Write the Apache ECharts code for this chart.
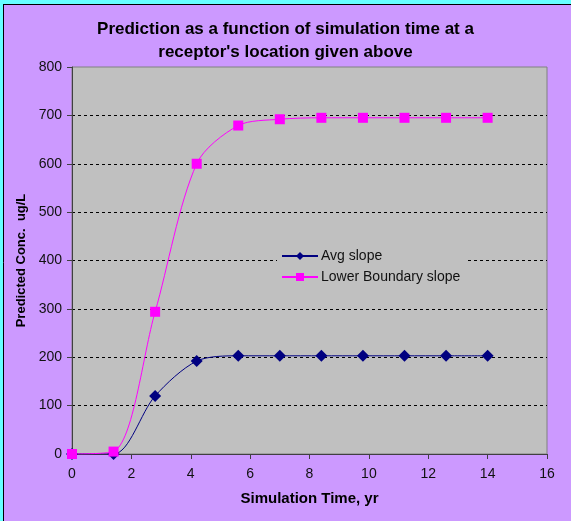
<!DOCTYPE html>
<html><head><meta charset="utf-8">
<script src="https://cdn.jsdelivr.net/npm/echarts@6/dist/echarts.min.js"></script>
<style>html,body{margin:0;padding:0;}#c{width:571px;height:521px;}</style>
</head><body><div id="c"></div>
<script>
const timeYr = [0, 1.4, 2.8, 4.2, 5.6, 7, 8.4, 9.8, 11.2, 12.6, 14];
const avgSlope = [0, 0, 120, 192, 203, 203, 203, 203, 203, 203, 203];
const lowerBoundarySlope = [0, 5, 294, 600, 679, 692, 695, 695, 695, 695, 695];
const titleLines = ["Prediction as a function of simulation time at a", "receptor's location given above"];
const xName = "Simulation Time, yr";
const yName = "Predicted Conc.  ug/L";

const font = "'Liberation Sans', Arial, sans-serif";
const chart = echarts.init(document.getElementById('c'));
chart.setOption({
  backgroundColor: '#CC99FF',
  animation: false,
  title: {
    text: titleLines.join('\n'),
    left: 'center', top: 13,
    textStyle: { fontFamily: font, fontSize: 17, fontWeight: 'bold', color: '#000', lineHeight: 23 }
  },
  graphic: [
    { type: 'rect', shape: { x: 0, y: 0, width: 571, height: 4 }, style: { fill: '#66FFFF' } },
    { type: 'rect', shape: { x: 0, y: 0, width: 3, height: 521 }, style: { fill: '#66FFFF' } },
    { type: 'line', shape: { x1: 3, y1: 4.5, x2: 571, y2: 4.5 }, style: { stroke: '#000', lineWidth: 1 } },
    { type: 'line', shape: { x1: 3.5, y1: 4, x2: 3.5, y2: 521 }, style: { stroke: '#000', lineWidth: 1 } }
  ],
  grid: { left: 72, top: 67, right: 24, bottom: 67, show: true, backgroundColor: '#C0C0C0', borderColor: '#808080', borderWidth: 1 },
  legend: {
    orient: 'vertical', left: 277, top: 247,
    backgroundColor: '#C0C0C0', padding: [2, 6, 2, 4],
    itemWidth: 36, itemHeight: 10, itemGap: 7,
    textStyle: { fontFamily: font, fontSize: 14, color: '#111', padding: [0, 0, 0, -2] },
    data: ['Avg slope', 'Lower Boundary slope']
  },
  xAxis: {
    type: 'value', min: 0, max: 16, interval: 2,
    name: xName, nameLocation: 'middle', nameGap: 37,
    nameTextStyle: { fontFamily: font, fontSize: 15, fontWeight: 'bold', color: '#000' },
    axisLine: { show: true, onZero: false, lineStyle: { color: '#404040', width: 1 } },
    axisTick: { show: true, length: 5, lineStyle: { color: '#404040' } },
    axisLabel: { fontFamily: font, fontSize: 14, color: '#111', margin: 13 },
    splitLine: { show: false }
  },
  yAxis: {
    type: 'value', min: 0, max: 800, interval: 100,
    name: yName, nameLocation: 'middle', nameGap: 40, nameRotate: 90,
    nameTextStyle: { fontFamily: font, fontSize: 13, fontWeight: 'bold', color: '#000' },
    axisLine: { show: true, lineStyle: { color: '#404040', width: 1 } },
    axisTick: { show: true, length: 5, lineStyle: { color: '#404040' } },
    axisLabel: { fontFamily: font, fontSize: 14, color: '#111', margin: 10 },
    splitLine: { show: true, showMaxLine: false, lineStyle: { color: '#000', type: [3, 3], width: 1 } }
  },
  series: [
    {
      name: 'Avg slope', type: 'line', smooth: 0.3,
      data: timeYr.map((t, i) => [t, avgSlope[i]]),
      symbol: 'diamond', symbolSize: 12,
      lineStyle: { color: '#000080', width: 1 },
      itemStyle: { color: '#000080' }, z: 3
    },
    {
      name: 'Lower Boundary slope', type: 'line', smooth: 0.3,
      data: timeYr.map((t, i) => [t, lowerBoundarySlope[i]]),
      symbol: 'rect', symbolSize: 10,
      lineStyle: { color: '#FF00FF', width: 1 },
      itemStyle: { color: '#FF00FF' }, z: 4
    }
  ]
});
</script></body></html>
